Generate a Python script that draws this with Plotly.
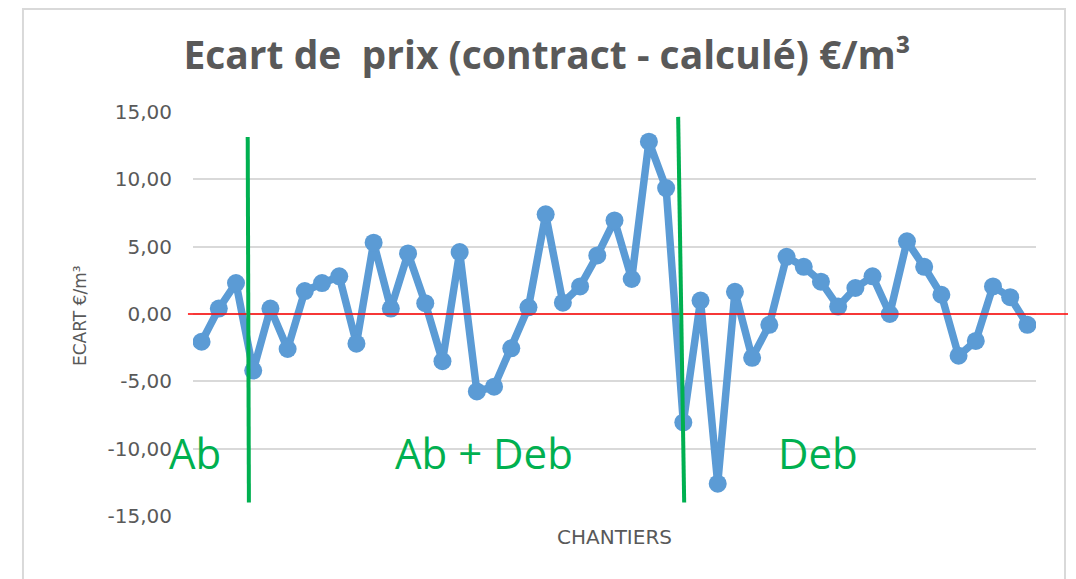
import plotly.graph_objects as go

# ---- data ----
chantiers = list(range(1, 50))
ecart = [-2.06, 0.4, 2.3, -4.2, 0.4, -2.6, 1.7, 2.3, 2.8, -2.2,
         5.3, 0.4, 4.5, 0.8, -3.5, 4.6, -5.75, -5.4, -2.55, 0.5,
         7.4, 0.84, 2.05, 4.35, 6.95, 2.6, 12.8, 9.35, -8.05, 1.0,
         -12.6, 1.65, -3.25, -0.8, 4.25, 3.5, 2.4, 0.55, 1.93, 2.8,
         0.0, 5.4, 3.5, 1.43, -3.1, -2.0, 2.05, 1.25, -0.8]
tick_vals = [-15, -10, -5, 0, 5, 10, 15]
tick_labels = ["-15,00", "-10,00", "-5,00", "0,00", "5,00", "10,00", "15,00"]
zone_labels = ["Ab", "Ab + Deb", "Deb"]
zone_centers = [0.6, 17.4, 36.8]

title_text = "Ecart de  prix (contract - calculé) €/m³"
GREEN = "#00b050"
GREY = "#595959"
FONT = "Open Sans"
FONT2 = "DejaVu Sans"

fig = go.Figure()
fig.add_trace(go.Scatter(
    x=chantiers, y=ecart, mode="lines+markers",
    line=dict(color="#5b9bd5", width=7.5),
    marker=dict(color="#5b9bd5", size=18),
    showlegend=False, hoverinfo="skip",
))

shapes = [
    # chart-area border
    dict(type="rect", xref="paper", yref="paper", x0=-0.2017, x1=1.0344, y0=-0.3, y1=1.255,
         line=dict(color="#d9d9d9", width=2), layer="below"),
    # red zero line
    dict(type="line", xref="paper", yref="y", x0=-0.006, x1=1.07, y0=0, y1=0,
         line=dict(color="#ff0000", width=1.5)),
    # green separators
    dict(type="line", xref="x", yref="y", x0=3.68, x1=3.75, y0=13.15, y1=-14.0,
         line=dict(color=GREEN, width=4)),
    dict(type="line", xref="x", yref="y", x0=28.7, x1=29.05, y0=14.64, y1=-14.0,
         line=dict(color=GREEN, width=4)),
]

annotations = []
for lab, cx in zip(zone_labels, zone_centers):
    annotations.append(dict(text=lab, x=cx, y=-10.3, xref="x", yref="y", showarrow=False,
                            xanchor="center", yanchor="middle",
                            font=dict(family=FONT, size=42, color=GREEN)))
annotations.append(dict(text="CHANTIERS", x=0.5, y=0, xref="paper", yref="paper",
                        yshift=-21, showarrow=False, xanchor="center", yanchor="middle",
                        font=dict(family=FONT2, size=20, color=GREY)))
annotations.append(dict(text="ECART €/m³", x=0, y=0.495, xref="paper", yref="paper",
                        xshift=-113, showarrow=False, textangle=-90,
                        xanchor="center", yanchor="middle",
                        font=dict(family=FONT2, size=17, color=GREY)))

fig.update_layout(
    width=1076, height=579,
    margin=dict(l=185, r=48, t=104, b=71),
    paper_bgcolor="white", plot_bgcolor="white",
    title=dict(text="<b>" + title_text + "</b>", x=539 / 1076, xref="container",
               xanchor="center", y=1 - 47 / 579, yref="container", yanchor="middle",
               font=dict(family=FONT, size=39, color=GREY)),
    xaxis=dict(range=[0.5, 49.5], showgrid=False, showticklabels=False, zeroline=False,
               showline=False, ticks=""),
    yaxis=dict(range=[-15, 15], tickvals=tick_vals, ticktext=tick_labels,
               showgrid=True, gridcolor="#d9d9d9", gridwidth=1.5, zeroline=False,
               showline=False, ticks="", ticklabelstandoff=20,
               tickfont=dict(family=FONT2, size=20, color=GREY)),
    shapes=shapes, annotations=annotations,
)

fig.write_html("out.html")
